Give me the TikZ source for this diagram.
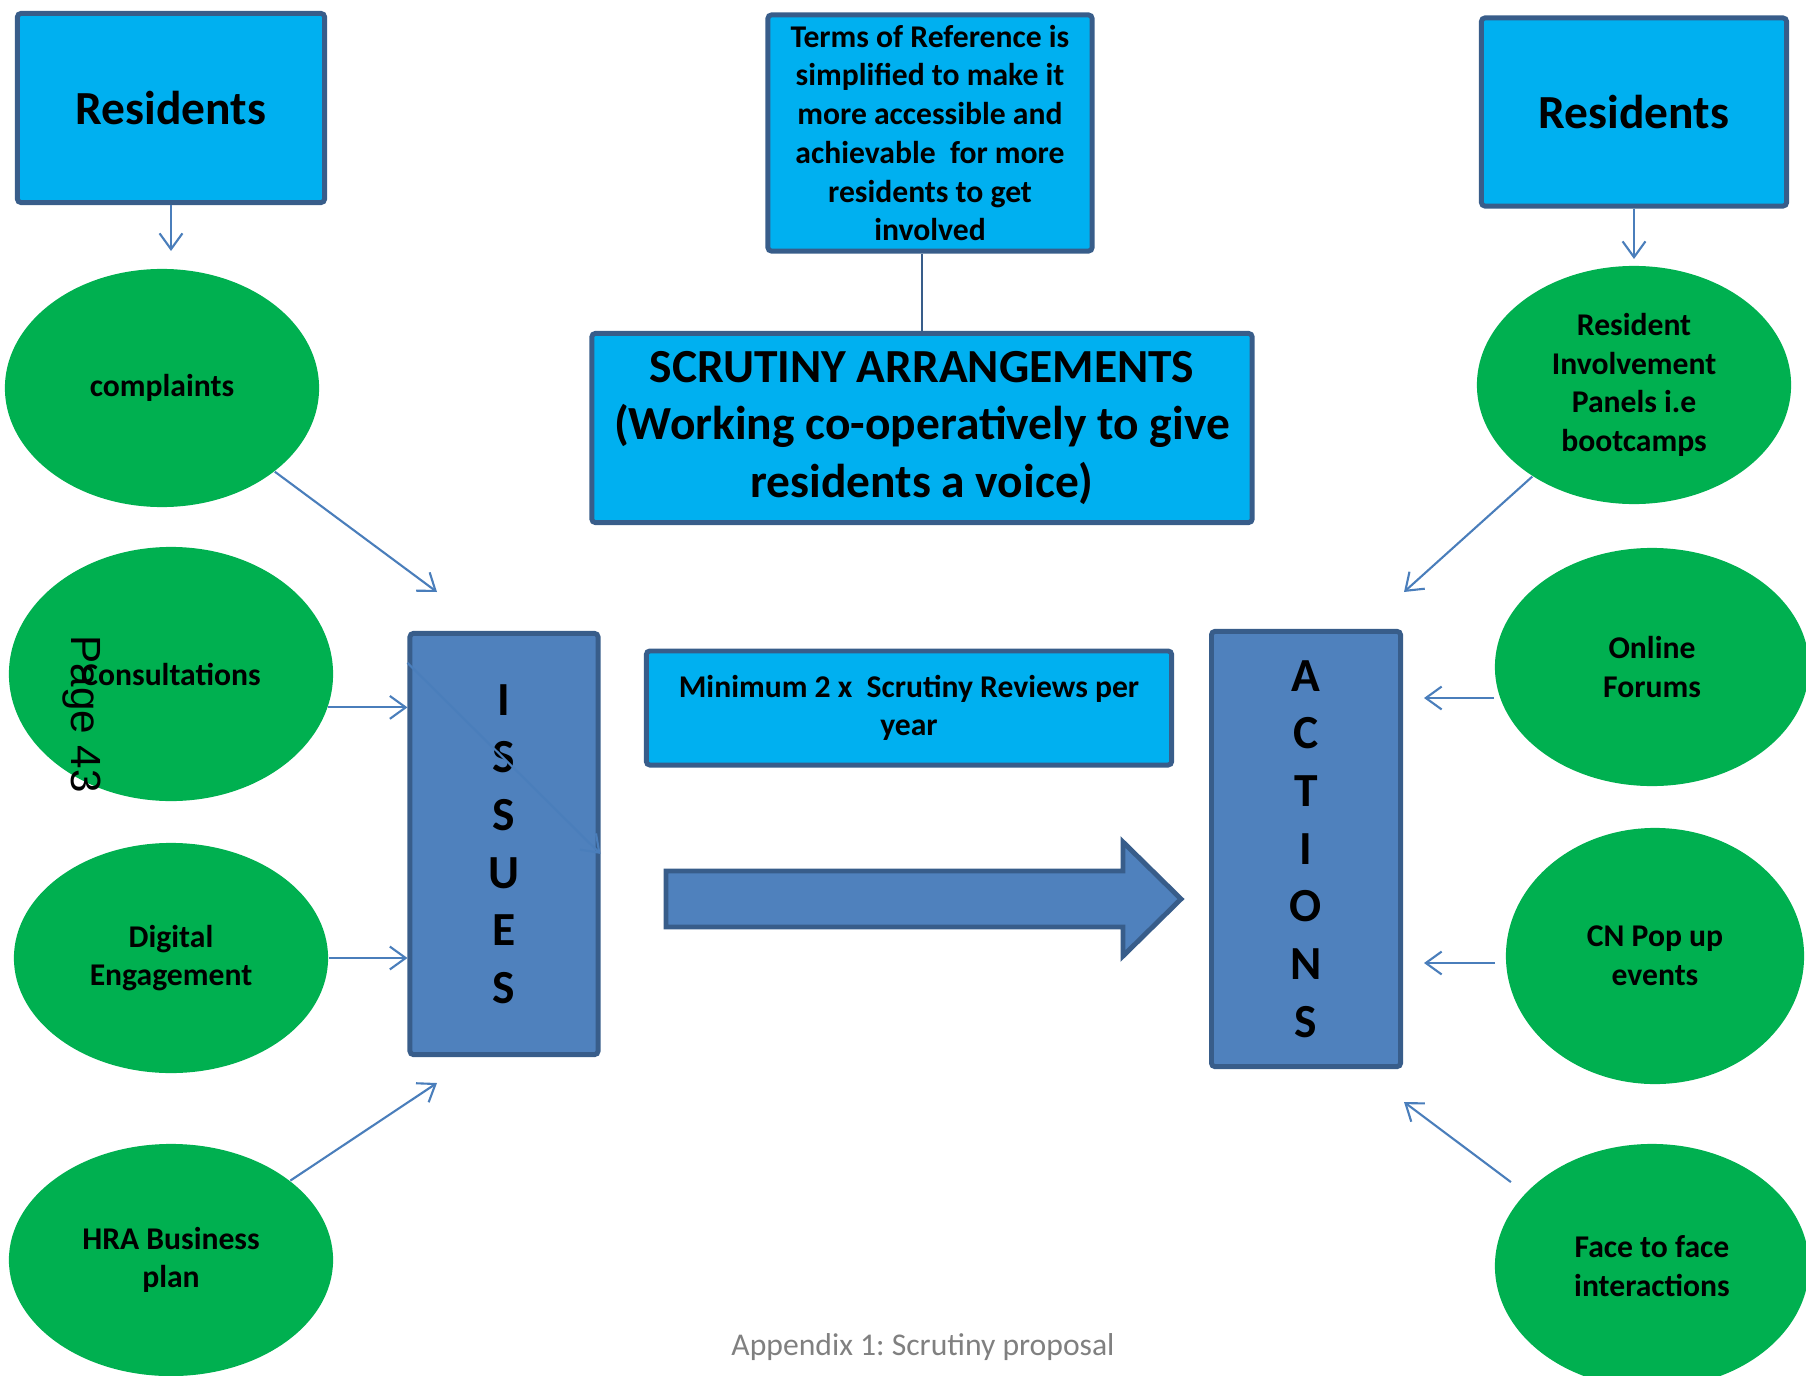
\documentclass[tikz,border=0pt]{standalone}
\usepackage{fontspec}
\setmainfont{Carlito}
\newfontfamily\stampfont{Liberation Sans}
\usetikzlibrary{shapes.geometric,arrows.meta,calc}
\frenchspacing

\definecolor{boxcyan}{HTML}{00B0F0}
\definecolor{boxedge}{HTML}{385D8A}
\definecolor{ovalgreen}{HTML}{00B050}
\definecolor{barblue}{HTML}{4F81BD}
\definecolor{linkblue}{HTML}{4A7EBB}
\definecolor{captiongray}{HTML}{808080}

\newcommand\bigbold{\fontsize{13.5}{16.4}\selectfont\bfseries}
\newcommand\smallbold{\fontsize{9}{11}\selectfont\bfseries}

\begin{document}
\begin{tikzpicture}[x = 0.01cm, y = -0.01cm,
	panel/.style = {draw = boxedge, line width = 1.4pt, fill = boxcyan, rounded corners = 1pt, align = center, inner sep = 0pt},
	bar/.style = {draw = boxedge, line width = 1.4pt, fill = barblue, rounded corners = 1pt, align = center, inner sep = 0pt, font = \bigbold},
	oval/.style = {ellipse, fill = ovalgreen, align = center, inner sep = 0pt, font = \smallbold},
	link/.style = {draw = linkblue, line width = 0.6pt, -{Straight Barb[length = 4.5pt, width = 6.5pt]}}]
			
			\useasboundingbox (0, 0) rectangle (1806, 1376);
			
			% sources on both sides
			\node[oval, minimum width = 3.14cm, minimum height = 2.38cm] (complaints) at (162, 388) {complaints};
			\node[oval, minimum width = 3.24cm, minimum height = 2.54cm] (consult) at (171, 674) {Consultations};
			\node[oval, minimum width = 3.14cm, minimum height = 2.30cm] (digital) at (171, 958) {Digital\\Engagement};
			\node[oval, minimum width = 3.24cm, minimum height = 2.32cm] (hra) at (171, 1260) {HRA Business\\plan};
			
			\node[oval, minimum width = 3.14cm, minimum height = 2.38cm] (panels) at (1634, 385) {Resident\\Involvement\\Panels i.e\\bootcamps};
			\node[oval, minimum width = 3.14cm, minimum height = 2.38cm] (online) at (1652, 667) {Online\\Forums};
			\node[oval, minimum width = 2.98cm, minimum height = 2.56cm] (popup) at (1655, 956) {CN Pop up\\events};
			\node[oval, minimum width = 3.14cm, minimum height = 2.44cm] (face) at (1652, 1266) {Face to face\\interactions};
			
			% boxes
			\node[panel, minimum width = 3.07cm, minimum height = 1.89cm, font = \bigbold] (resL) at (171, 108) {Residents};
			\node[panel, minimum width = 3.05cm, minimum height = 1.88cm, font = \bigbold] (resR) at (1634, 112) {Residents};
			\node[panel, minimum width = 3.24cm, minimum height = 2.36cm, font = \smallbold] (terms) at (930, 133) {Terms of Reference is\\simplified to make it\\more accessible and\\achievable\ \ for more\\residents to get\\involved};
			\node[panel, minimum width = 6.60cm, minimum height = 1.89cm, font = \bigbold] (scrutiny) at (922, 428) {SCRUTINY ARRANGEMENTS\\(Working co-operatively to give\\residents a voice)};
			\node[panel, minimum width = 5.25cm, minimum height = 1.14cm, font = \smallbold] (reviews) at (909, 708) {Minimum 2 x\ \ Scrutiny Reviews per\\year};
			
			\node[bar, minimum width = 1.88cm, minimum height = 4.21cm] (issues) at (504, 844) {I\\S\\S\\U\\E\\S};
			\node[bar, minimum width = 1.89cm, minimum height = 4.35cm] (actions) at (1306, 849) {A\\C\\T\\I\\O\\N\\S};
			
			% big arrow from issues to actions
			\filldraw[fill = barblue, draw = boxedge, line width = 1.4pt] (666, 871) -- (1123, 871) -- (1123, 842) -- (1181, 899) -- (1123, 956) -- (1123, 927) -- (666, 927) -- cycle;
			
			\draw[draw = boxedge, line width = 0.6pt] (scrutiny.north) -- (scrutiny.north |- terms.south);
			
			% loose arrow ends
			\coordinate (inL) at (171, 251);
			\coordinate (inR) at (1634, 259);
			\coordinate (issuesTop) at (437, 592);
			\coordinate (issuesBot) at (437, 1083);
			\coordinate (actionsTop) at (1404, 592);
			\coordinate (actionsBot) at (1404, 1102);
			\coordinate (fromOnline) at (1424, 698);
			\coordinate (fromPopup) at (1424, 963);
			
			\draw[link] (resL) -- (inL);
			\draw[link] (resR) -- (inR);
			
			\draw[link] (complaints) -- (issuesTop);
			\draw[link] (consult.-12) -- (consult.-12 -| issues.west);
			\draw[link] (digital.east) -- (digital.east -| issues.west);
			\draw[link] (hra) -- (issuesBot);
			\draw[link] ($(issues.north west) + (0, 32)$) -- ($(issues.north east) + (0, 223)$);
			
			\draw[link] (panels) -- (actionsTop);
			\draw[link] (online.west |- fromOnline) -- (fromOnline);
			\draw[link, shorten <= 0.1cm] (popup.west |- fromPopup) -- (fromPopup);
			\draw[link, shorten <= 0.18cm] (face.150) -- (actionsBot);
			
			\node[font = \stampfont\fontsize{12}{14}\selectfont, rotate = -90] (stamp) at (82, 714) {Page 43};
			\node[text = captiongray, font = \fontsize{9}{11}\selectfont] (caption) at (923, 1347) {Appendix 1: Scrutiny proposal};
			
		\end{tikzpicture}
\end{document}
